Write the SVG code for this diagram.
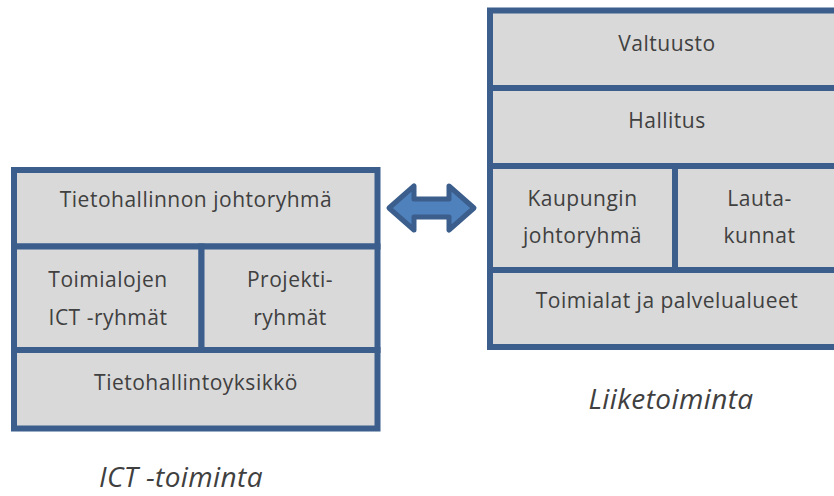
<svg xmlns="http://www.w3.org/2000/svg" width="834" height="496" viewBox="0 0 834 496">
<style>
  .cell { fill: #d9d9d9; stroke: #3b5e8c; stroke-width: 6; }
  .t { font-family: "Open Sans", "Liberation Sans", sans-serif; font-size: 21px; fill: #404040; text-anchor: middle; letter-spacing: 0.5px; }
  .cap { font-family: "Open Sans", "Liberation Sans", sans-serif; font-size: 28px; font-style: italic; fill: #404040; text-anchor: middle; letter-spacing: 0.4px; }
  .arrow { fill: #4f81bd; stroke: #3b5e8c; stroke-width: 5; stroke-linejoin: round; }
</style>
<rect width="834" height="496" fill="#ffffff"/>

<!-- Left block: ICT -toiminta -->
<g id="tietohallinnon-johtoryhma">
  <rect class="cell" x="14" y="170" width="363.5" height="76.5"/>
  <text class="t" x="196" y="207">Tietohallinnon johtoryhmä</text>
</g>
<g id="toimialojen-ict-ryhmat">
  <rect class="cell" x="14" y="246.5" width="187.5" height="103.5"/>
  <text class="t" x="108" y="287">Toimialojen</text>
  <text class="t" x="108" y="325">ICT -ryhmät</text>
</g>
<g id="projektiryhmat">
  <rect class="cell" x="201.5" y="246.5" width="176" height="103.5"/>
  <text class="t" x="290" y="287">Projekti-</text>
  <text class="t" x="290" y="325">ryhmät</text>
</g>
<g id="tietohallintoyksikko">
  <rect class="cell" x="14" y="350" width="363.5" height="78.5"/>
  <text class="t" x="196" y="390">Tietohallintoyksikkö</text>
</g>
<g id="label-ict">
  <text class="cap" x="181" y="487">ICT -toiminta</text>
</g>

<!-- Right block: Liiketoiminta -->
<g id="valtuusto">
  <rect class="cell" x="490" y="10.5" width="354" height="77.5"/>
  <text class="t" x="667" y="51">Valtuusto</text>
</g>
<g id="hallitus">
  <rect class="cell" x="490" y="88" width="354" height="78"/>
  <text class="t" x="667" y="128">Hallitus</text>
</g>
<g id="kaupungin-johtoryhma">
  <rect class="cell" x="490" y="166" width="185" height="104"/>
  <text class="t" x="582.5" y="206">Kaupungin</text>
  <text class="t" x="582.5" y="243">johtoryhmä</text>
</g>
<g id="lautakunnat">
  <rect class="cell" x="675" y="166" width="169" height="104"/>
  <text class="t" x="759.5" y="206">Lauta-</text>
  <text class="t" x="759.5" y="243">kunnat</text>
</g>
<g id="toimialat">
  <rect class="cell" x="490" y="270" width="354" height="77"/>
  <text class="t" x="667" y="308">Toimialat ja palvelualueet</text>
</g>
<g id="label-liiketoiminta">
  <text class="cap" x="671" y="409">Liiketoiminta</text>
</g>

<!-- Connectors -->
<g id="connectors">
  <path class="arrow" d="M389,208 L414,186 L414,199 L449,199 L449,186 L474,208 L449,230 L449,217 L414,217 L414,230 Z"/>
</g>
</svg>
